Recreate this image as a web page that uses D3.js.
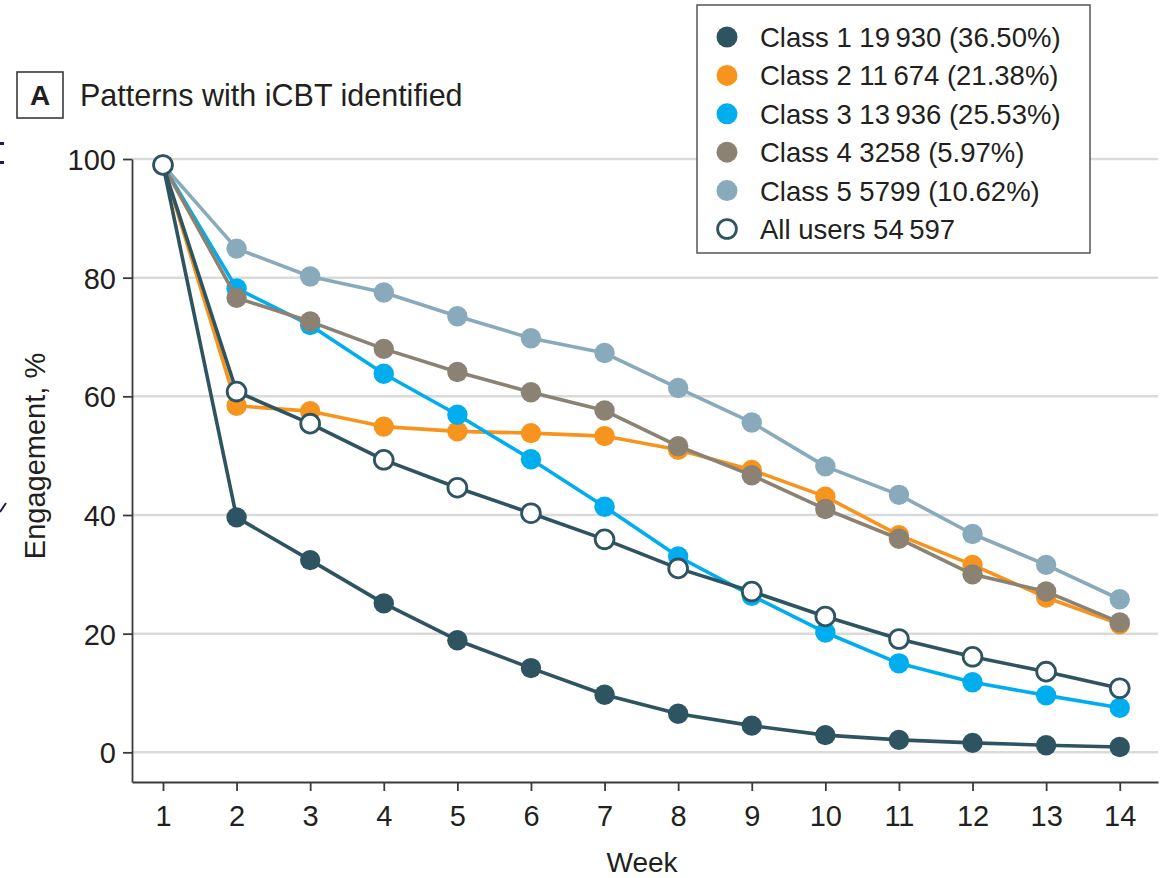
<!DOCTYPE html>
<html>
<head>
<meta charset="utf-8">
<script src="https://cdn.jsdelivr.net/npm/d3@7"></script>
<style>
  html, body { margin: 0; padding: 0; background: #ffffff; }
  svg { display: block; }
  text { font-family: "Liberation Sans", Arial, sans-serif; fill: #231f20; }
</style>
</head>
<body>
<svg id="chart" width="1164" height="878"></svg>
<script>
// ---- data ----
const weeks = [1, 2, 3, 4, 5, 6, 7, 8, 9, 10, 11, 12, 13, 14];
const yTicks = [0, 20, 40, 60, 80, 100];
const seriesNames = ["Class 2", "Class 3", "Class 5", "Class 4", "Class 1", "All users"];
const legendLabels = [
  "Class 1 19\u2009930 (36.50%)",
  "Class 2 11\u2009674 (21.38%)",
  "Class 3 13\u2009936 (25.53%)",
  "Class 4 3258 (5.97%)",
  "Class 5 5799 (10.62%)",
  "All users 54\u2009597"
];
const class1 = [99, 39.6, 32.4, 25.1, 18.9, 14.2, 9.7, 6.5, 4.5, 2.9, 2.1, 1.6, 1.2, 0.9];
const class2 = [99, 58.4, 57.5, 54.9, 54.1, 53.8, 53.3, 51.0, 47.6, 43.1, 36.6, 31.6, 26.1, 21.6];
const class3 = [99, 78.2, 72.0, 63.8, 56.9, 49.4, 41.4, 33.0, 26.4, 20.2, 15.0, 11.8, 9.6, 7.5];
const class4 = [99, 76.6, 72.6, 68.0, 64.1, 60.7, 57.6, 51.6, 46.7, 41.0, 36.0, 30.0, 27.1, 21.9];
const class5 = [99, 84.9, 80.2, 77.5, 73.5, 69.8, 67.3, 61.4, 55.6, 48.2, 43.4, 36.8, 31.6, 25.8];
const allUsers = [99, 60.8, 55.4, 49.3, 44.6, 40.3, 35.9, 31.0, 27.1, 22.9, 19.1, 16.1, 13.6, 10.8];

// ---- styles ----
const colors = {
  "Class 1": "#2e5461",
  "Class 2": "#f7941e",
  "Class 3": "#00aeef",
  "Class 4": "#8b8273",
  "Class 5": "#88aabb",
  "All users": "#2e5461"
};
const valuesByName = {
  "Class 1": class1, "Class 2": class2, "Class 3": class3,
  "Class 4": class4, "Class 5": class5, "All users": allUsers
};
const legendOrder = ["Class 1", "Class 2", "Class 3", "Class 4", "Class 5", "All users"];

const svg = d3.select("#chart");

// scales
const x = d3.scaleLinear().domain([0.579, 14.52]).range([132, 1158]);
const y = d3.scaleLinear().domain([-5, 100]).range([782, 159]);

// gridlines
svg.append("g")
  .selectAll("line")
  .data(yTicks)
  .join("line")
  .attr("x1", x.range()[0]).attr("x2", x.range()[1])
  .attr("y1", d => y(d)).attr("y2", d => y(d))
  .attr("stroke", "#dadada").attr("stroke-width", 2.5);

// axes
const yAxis = d3.axisLeft(y).tickValues(yTicks).tickSize(9).tickPadding(7).tickSizeOuter(0);
const xAxis = d3.axisBottom(x).tickValues(weeks).tickSize(9).tickPadding(14).tickSizeOuter(0);

const gy = svg.append("g").attr("transform", `translate(${x.range()[0]},0)`).call(yAxis);
const gx = svg.append("g").attr("transform", `translate(0,${y.range()[0]})`).call(xAxis);
[gx, gy].forEach(g => {
  g.select(".domain").attr("stroke", "#3a3a3a").attr("stroke-width", 1.8);
  g.selectAll(".tick line").attr("stroke", "#3a3a3a").attr("stroke-width", 1.8);
  g.selectAll(".tick text")
    .attr("fill", "#231f20")
    .style("font-family", '"Liberation Sans", Arial, sans-serif')
    .style("font-size", "29px");
});
gy.selectAll(".tick text").attr("dy", "0.36em");

// axis titles
svg.append("text")
  .attr("transform", "translate(45,456) rotate(-90)")
  .attr("text-anchor", "middle")
  .style("font-size", "29px")
  .text("Engagement, %");
svg.append("text")
  .attr("x", 642).attr("y", 872)
  .attr("text-anchor", "middle")
  .style("font-size", "28px")
  .text("Week");

// panel title
svg.append("rect")
  .attr("x", 17).attr("y", 72).attr("width", 46).attr("height", 46)
  .attr("fill", "#ffffff").attr("stroke", "#3a3a3a").attr("stroke-width", 1.6);
svg.append("text")
  .attr("x", 40).attr("y", 105)
  .attr("text-anchor", "middle")
  .style("font-size", "28px").style("font-weight", "bold")
  .text("A");
svg.append("text")
  .attr("x", 80).attr("y", 106)
  .style("font-size", "30.5px")
  .text("Patterns with iCBT identified");

// series
const line = d3.line().x((d, i) => x(weeks[i])).y(d => y(d));
seriesNames.forEach(name => {
  const vals = valuesByName[name];
  const g = svg.append("g").attr("class", "series");
  g.append("path")
    .datum(vals)
    .attr("d", line)
    .attr("fill", "none")
    .attr("stroke", colors[name])
    .attr("stroke-width", 3.6)
    .attr("stroke-linejoin", "round");
  const open = name === "All users";
  g.selectAll("circle")
    .data(vals)
    .join("circle")
    .attr("cx", (d, i) => x(weeks[i]))
    .attr("cy", d => y(d))
    .attr("r", open ? 9.4 : 10.2)
    .attr("fill", open ? "#ffffff" : colors[name])
    .attr("stroke", open ? colors[name] : "none")
    .attr("stroke-width", open ? 2.8 : 0);
});

// legend
const lg = svg.append("g");
lg.append("rect")
  .attr("x", 697).attr("y", 5).attr("width", 393).attr("height", 248)
  .attr("fill", "#ffffff").attr("stroke", "#555555").attr("stroke-width", 1.5);
const rowY = d3.scaleLinear().domain([0, 5]).range([37, 229]);
legendOrder.forEach((name, i) => {
  const open = name === "All users";
  lg.append("circle")
    .attr("cx", 727).attr("cy", rowY(i))
    .attr("r", open ? 9.4 : 10.5)
    .attr("fill", open ? "#ffffff" : colors[name])
    .attr("stroke", open ? colors[name] : "none")
    .attr("stroke-width", open ? 2.8 : 0);
  lg.append("text")
    .attr("x", 760).attr("y", rowY(i) + 10)
    .style("font-size", "27.5px")
    .text(legendLabels[i]);
});

// cropped fragments at the left edge of the source figure
svg.append("rect").attr("x", 0).attr("y", 142).attr("width", 4).attr("height", 3).attr("fill", "#1b1b5e");
svg.append("rect").attr("x", 0).attr("y", 161).attr("width", 4).attr("height", 3).attr("fill", "#1b1b5e");
svg.append("line").attr("x1", 0).attr("y1", 512).attr("x2", 6).attr("y2", 503)
  .attr("stroke", "#1b1b5e").attr("stroke-width", 2);
</script>
</body>
</html>
